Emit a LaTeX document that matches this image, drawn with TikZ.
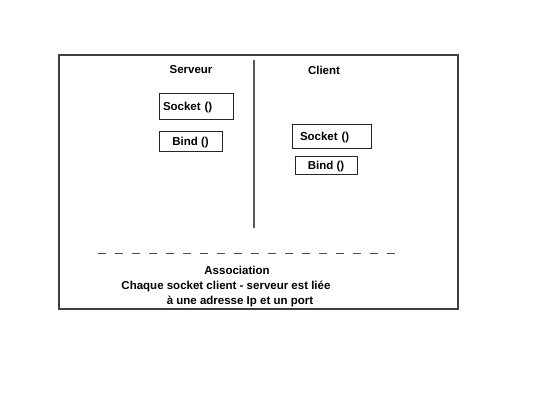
\documentclass[tikz,border=0pt]{standalone}
\usepackage{fontspec}
\setmainfont{Liberation Sans}
\begin{document}
\begin{tikzpicture}[x=1pt,y=-1pt,
  lbl/.style={font=\fontsize{11.5}{12}\selectfont\bfseries, inner sep=0pt},
  fbox/.style={draw=black!85, line width=0.8pt, inner sep=0pt, text depth=0pt, font=\fontsize{11.5}{12}\selectfont\bfseries}]
\useasboundingbox (0,0) rectangle (550,413);
\fill[white] (0,0) rectangle (550,413);
\draw[black!75, line width=1.2pt] (59,55) rectangle (458,309);
\coordinate (vtop) at (254,60);
\coordinate (vbot) at (254,228);
\draw[black!65, line width=1.1pt] (vtop) -- (vbot);
\node[lbl] (serveur) at (191,70) {Serveur};
\node[lbl] (client) at (324,70) {Client};
\node[fbox, minimum width=74pt, minimum height=26pt, text width=66pt, align=left] (ssock) at (196,106) {Socket ()};
\node[fbox, minimum width=63pt, minimum height=20pt] (sbind) at (190.5,141) {Bind ()};
\node[fbox, minimum width=79pt, minimum height=24pt, text width=63pt, align=left] (csock) at (331.5,136) {Socket ()};
\node[fbox, minimum width=62pt, minimum height=18pt] (cbind) at (326,165) {Bind ()};
\coordinate (dl) at (98,253);
\coordinate (dr) at (402,253);
\draw[black!70, line width=0.8pt, dash pattern=on 8pt off 9pt] (dl) -- (dr);
\node[lbl] (assoc) at (237,270) {Association};
\node[lbl] (l1) at (226,286) {Chaque socket client - serveur est liée};
\node[lbl] (l2) at (240,301) {à une adresse Ip et un port};
\end{tikzpicture}
\end{document}
